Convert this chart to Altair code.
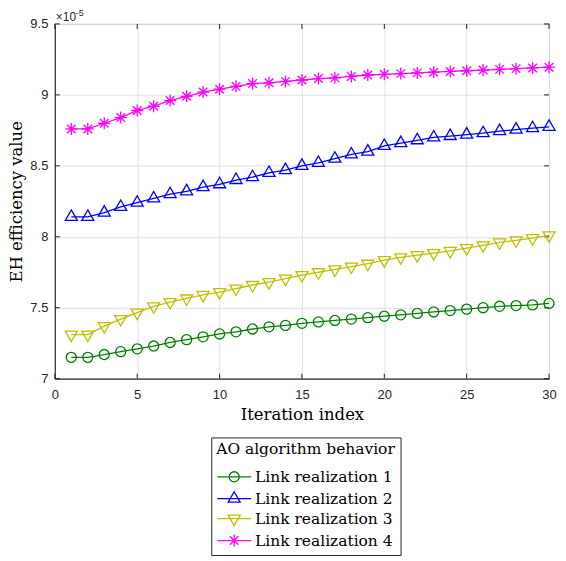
import altair as alt
import pandas as pd

# ---------------- data (values in units of 1e-5) ----------------
iterations = list(range(1, 31))
series_names = ["Link realization 1", "Link realization 2",
                "Link realization 3", "Link realization 4"]
link1 = [7.15, 7.15, 7.17, 7.19, 7.21, 7.23, 7.255, 7.275, 7.295, 7.315,
         7.33, 7.35, 7.365, 7.375, 7.39, 7.40, 7.41, 7.42, 7.43, 7.44,
         7.45, 7.46, 7.47, 7.48, 7.49, 7.50, 7.51, 7.515, 7.52, 7.53]
link2 = [8.14, 8.14, 8.17, 8.21, 8.24, 8.27, 8.30, 8.32, 8.35, 8.37,
         8.40, 8.42, 8.45, 8.47, 8.50, 8.52, 8.55, 8.58, 8.60, 8.64,
         8.66, 8.68, 8.70, 8.71, 8.72, 8.73, 8.745, 8.755, 8.765, 8.775]
link3 = [7.31, 7.31, 7.37, 7.42, 7.465, 7.51, 7.54, 7.565, 7.59, 7.61,
         7.635, 7.66, 7.68, 7.705, 7.73, 7.75, 7.77, 7.79, 7.81, 7.835,
         7.855, 7.87, 7.885, 7.90, 7.92, 7.94, 7.96, 7.975, 7.99, 8.01]
link4 = [8.76, 8.76, 8.80, 8.84, 8.89, 8.92, 8.96, 8.99, 9.02, 9.04,
         9.06, 9.08, 9.085, 9.095, 9.105, 9.115, 9.12, 9.13, 9.14, 9.145,
         9.15, 9.155, 9.16, 9.165, 9.17, 9.175, 9.18, 9.185, 9.19, 9.195]
x_ticks = [0, 5, 10, 15, 20, 25, 30]
y_ticks = [7, 7.5, 8, 8.5, 9, 9.5]
colors = ["#008000", "#0000ff", "#bfbf00", "#ff00ff"]

# ---------------- styles ----------------
W, H = 496, 356
AX = "#262626"
SERIF = "DejaVu Serif"
SANS = "Liberation Sans"
TICK = 5
LEG_X, LEG_Y = 157, 415
LEG_W = 187


def marker(kind, dx=0.0):
    if kind == "circle":
        r = 0.72
        return (f"M{dx + r},0A{r},{r} 0 1,1 {dx - r},0"
                f"A{r},{r} 0 1,1 {dx + r},0Z")
    if kind == "up":
        return f"M{dx},-1.0L{dx + 0.86},0.5L{dx - 0.86},0.5Z"
    if kind == "down":
        return f"M{dx - 0.86},-0.5L{dx + 0.86},-0.5L{dx},1.0Z"
    r, d = 0.86, 0.61
    return (f"M{dx},{-r}V{r}M{dx - r},0H{dx + r}"
            f"M{dx - d},{-d}L{dx + d},{d}M{dx - d},{d}L{dx + d},{-d}")


kinds = ["circle", "up", "down", "star"]
plot_shapes = [marker(k) for k in kinds]
legend_shapes = ["M-1,0H3.86" + marker(k, 1.43) for k in kinds]

rows = []
for name, vals in zip(series_names, [link1, link2, link3, link4]):
    for it, v in zip(iterations, vals):
        rows.append({"iter": it, "val": v, "series": name})
df = pd.DataFrame(rows)

xscale = alt.Scale(domain=[0, 30], nice=False, zero=False)
yscale = alt.Scale(domain=[7, 9.5], nice=False, zero=False)
xaxis = alt.Axis(values=x_ticks, format="d", title="Iteration index",
                 titleFont=SERIF, titleFontSize=16.5, titleFontWeight="normal",
                 titleColor="black", titlePadding=5,
                 labelFont=SANS, labelFontSize=13, labelColor=AX,
                 labelPadding=10, tickSize=0, domainColor=AX,
                 grid=True, gridColor="#e0e0e0", labelFlush=False)
yaxis = alt.Axis(values=y_ticks, format="~g", title="EH efficiency value",
                 titleFont=SERIF, titleFontSize=16.5, titleFontWeight="normal",
                 titleColor="black", titlePadding=5,
                 labelFont=SANS, labelFontSize=13, labelColor=AX,
                 labelPadding=7, tickSize=0, domainColor=AX,
                 grid=True, gridColor="#e0e0e0", labelFlush=False)
X = alt.X("iter:Q", scale=xscale, axis=xaxis)
Y = alt.Y("val:Q", scale=yscale, axis=yaxis)
cscale = alt.Scale(domain=series_names, range=colors)

lines = alt.Chart(df).mark_line(strokeWidth=1.3).encode(
    x=X, y=Y, color=alt.Color("series:N", scale=cscale, legend=None))

points = alt.Chart(df).mark_point(filled=False, size=196, strokeWidth=1.3,
                                  opacity=1).encode(
    x=X, y=Y,
    color=alt.Color("series:N", scale=cscale, legend=None),
    shape=alt.Shape("series:N",
                    scale=alt.Scale(domain=series_names, range=plot_shapes),
                    legend=None))

leg = alt.Legend(orient="none", legendX=LEG_X, legendY=LEG_Y,
                 title="AO algorithm behavior", titleFont=SERIF,
                 titleFontSize=15.5, titleFontWeight="normal",
                 titleColor="black", titlePadding=11, labelFont=SERIF,
                 labelFontSize=15.5, labelColor="black", labelOffset=23,
                 symbolSize=196, symbolStrokeWidth=1.3, rowPadding=3,
                 padding=5, strokeColor=AX, fillColor="white", symbolOffset=0)

legend_layer = alt.Chart(df).transform_filter("false").mark_point(
    filled=False, size=196, strokeWidth=1.3, opacity=1).encode(
    x=X, y=Y,
    color=alt.Color("series:N", scale=cscale, legend=leg),
    shape=alt.Shape("series:N",
                    scale=alt.Scale(domain=series_names, range=legend_shapes),
                    legend=leg))

xt = pd.DataFrame({"iter": x_ticks})
yt = pd.DataFrame({"val": y_ticks})
tick_b = alt.Chart(xt).mark_rule(color=AX).encode(
    x=X, y=alt.value(H), y2=alt.value(H - TICK))
tick_t = alt.Chart(xt).mark_rule(color=AX).encode(
    x=X, y=alt.value(0), y2=alt.value(TICK))
tick_l = alt.Chart(yt).mark_rule(color=AX).encode(
    y=Y, x=alt.value(0), x2=alt.value(TICK))
tick_r = alt.Chart(yt).mark_rule(color=AX).encode(
    y=Y, x=alt.value(W), x2=alt.value(W - TICK))

sep = alt.Chart(pd.DataFrame({"k": [0]})).mark_rule(color=AX).encode(
    x=alt.value(LEG_X), x2=alt.value(LEG_X + LEG_W), y=alt.value(LEG_Y + 27))

exp1 = alt.Chart(pd.DataFrame({"t": ["×10"]})).mark_text(
    align="left", baseline="alphabetic", font=SANS, fontSize=12,
    color=AX).encode(x=alt.value(1), y=alt.value(-3), text="t:N")
exp2 = alt.Chart(pd.DataFrame({"t": ["-5"]})).mark_text(
    align="left", baseline="alphabetic", font=SANS, fontSize=9,
    color=AX).encode(x=alt.value(21), y=alt.value(-8), text="t:N")

chart = alt.layer(
    tick_b, tick_t, tick_l, tick_r, lines, points, legend_layer, sep, exp1, exp2
).resolve_scale(color="independent", shape="independent").properties(
    width=W, height=H, padding=0
).configure_view(stroke=AX, strokeWidth=1)

chart.save("out.html", embed_options={"renderer": "svg", "actions": False})
